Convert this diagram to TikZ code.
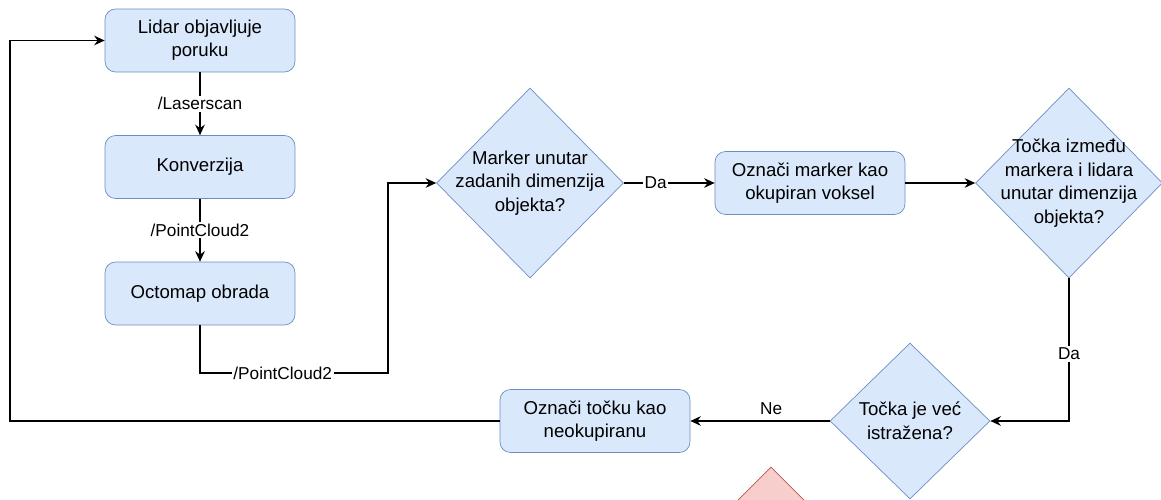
\documentclass[tikz,border=0pt]{standalone}
\usepackage{fontspec}
\setmainfont{Liberation Sans}
\usetikzlibrary{arrows.meta, shapes, positioning}
\definecolor{boxfill}{HTML}{DAE8FC}
\definecolor{boxline}{HTML}{6C8EBF}
\definecolor{redfill}{HTML}{F8CECC}
\definecolor{redline}{HTML}{B85450}

\begin{document}
\begin{tikzpicture}[x=0.02cm, y=-0.02cm,
  proc/.style={draw=boxline, fill=boxfill, rounded corners=6pt, minimum width=3.8cm, minimum height=1.26cm, align=center, font=\fontsize{10.6}{13.2}\selectfont},
  dec/.style={diamond, draw=boxline, fill=boxfill, minimum width=3.74cm, minimum height=3.8cm, inner sep=0pt},
  txt/.style={align=center, font=\fontsize{10.6}{13.4}\selectfont},
  lbl/.style={fill=white, inner sep=1pt, font=\fontsize{9.8}{12}\selectfont},
  line/.style={-{Stealth[length=6pt, width=5.5pt, inset=2pt]}, line width=0.8pt}]
  \clip (0,0) rectangle (1161,500);

  \node[proc] (lidar) at (200,40.5) {Lidar objavljuje\\poruku};
  \node[proc] (konv) at (200,167) {Konverzija};
  \node[proc] (octo) at (200,293.5) {Octomap obrada};

  \node[dec] (marker) at (530,183) {};
  \node[txt] at (marker) {Marker unutar\\zadanih dimenzija\\objekta?};
  \node[proc] (oznaci) at (810,183) {Označi marker kao\\okupiran voksel};
  \node[dec] (tocka) at (1069,183) {};
  \node[txt] at (tocka) {Točka između\\markera i lidara\\unutar dimenzija\\objekta?};

  \node[dec, minimum width=3.2cm, minimum height=3.12cm] (istr) at (910,421) {};
  \node[txt] at (istr) {Točka je već\\istražena?};
  \node[proc] (neok) at (595,421) {Označi točku kao\\neokupiranu};
  \node[dec, draw=redline, fill=redfill, minimum width=3.2cm, minimum height=3.2cm] (crveni) at (771,547) {};

  \coordinate (c1) at (388,373);
  \coordinate (c2) at (10,421);

  \draw[line] (lidar) -- node[lbl] {/Laserscan} (konv);
  \draw[line] (konv) -- node[lbl] {/PointCloud2} (octo);
  \draw[line] (octo.south) |- node[lbl, pos=0.72] {/PointCloud2} (c1) |- (marker.west);
  \draw[line] (marker) -- node[lbl, pos=0.35] {Da} (oznaci);
  \draw[line] (oznaci) -- (tocka);
  \draw[line] (tocka.south) |- node[lbl, pos=0.265] {Da} (istr.east);
  \draw[line] (istr) -- node[above, pos=0.42, font=\fontsize{9.8}{12}\selectfont] {Ne} (neok);
  \draw[line] (neok.west) -- (c2) |- (lidar.west);
\end{tikzpicture}
\end{document}
